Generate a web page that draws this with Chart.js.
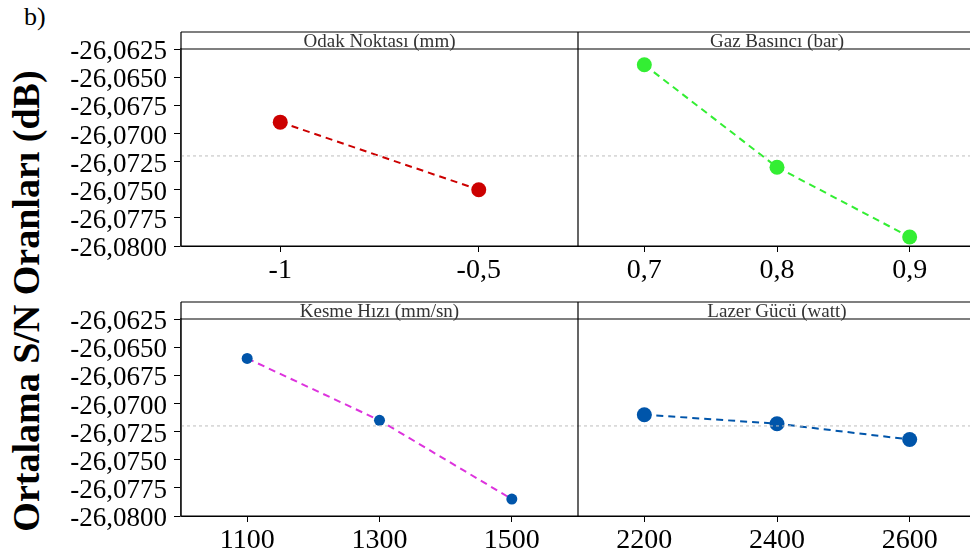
<!DOCTYPE html>
<html>
<head>
<meta charset="utf-8">
<script src="https://cdn.jsdelivr.net/npm/chart.js@4/dist/chart.umd.min.js"></script>
<style>
  html, body { margin: 0; padding: 0; background: #fff; overflow: hidden; }
  #wrap { position: relative; width: 970px; height: 555px; overflow: hidden; }
  canvas { position: absolute; }
  .lbl { position: absolute; font-family: 'Liberation Serif', serif; color: #000; white-space: nowrap; }
</style>
</head>
<body>
<div id="wrap">
  <div class="lbl" style="left:24px; top:2px; font-size:26px;">b)</div>
  <div class="lbl" id="ytitle" style="left:26px; top:301px; font-size:38px; font-weight:bold; transform:translate(-50%,-50%) rotate(-90deg);">Ortalama S/N Oranları (dB)</div>
  <canvas id="c1" style="left:0px; top:0px;" width="578" height="285"></canvas>
  <canvas id="c2" style="left:578px; top:0px;" width="398" height="285"></canvas>
  <canvas id="c3" style="left:0px; top:270px;" width="578" height="285"></canvas>
  <canvas id="c4" style="left:578px; top:270px;" width="398" height="285"></canvas>
</div>
<script>
// main effects data (S/N means, dB)
var odakLabels = ['-1', '-0,5'];
var odakValues = [-26.0690, -26.0750];

var gazLabels = ['0,7', '0,8', '0,9'];
var gazValues = [-26.0639, -26.0730, -26.0792];

var kesmeLabels = ['1100', '1300', '1500'];
var kesmeValues = [-26.0660, -26.0715, -26.0785];

var lazerLabels = ['2200', '2400', '2600'];
var lazerValues = [-26.0710, -26.0718, -26.0732];

var yTicks = [-26.0800, -26.0775, -26.0750, -26.0725, -26.0700, -26.0675, -26.0650, -26.0625];
var grandMean = -26.0720;

var serif = 'Liberation Serif';
Chart.defaults.font.family = serif;
Chart.defaults.color = '#000';

/**
 * Panel decoration: header strip, box and mean line
 */
var panelDeco = {
    id: 'panelDeco',
    afterDraw: function(chart, args, opts) {
        var ctx = chart.ctx;
        var a = chart.chartArea;
        var y = chart.scales.y;
        var hTop = a.top - 17;

        ctx.save();
        // mean line
        var my = y.getPixelForValue(grandMean);
        ctx.strokeStyle = '#bdbdbd';
        ctx.lineWidth = 1;
        ctx.setLineDash([3, 3]);
        ctx.beginPath();
        ctx.moveTo(a.left, my);
        ctx.lineTo(a.right, my);
        ctx.stroke();

        // box + header
        ctx.setLineDash([]);
        ctx.strokeStyle = '#000';
        ctx.lineWidth = 1.2;
        ctx.beginPath();
        ctx.moveTo(a.left, hTop); ctx.lineTo(a.right, hTop);
        ctx.moveTo(a.left, a.top); ctx.lineTo(a.right, a.top);
        ctx.moveTo(a.left, a.bottom); ctx.lineTo(a.right, a.bottom);
        ctx.moveTo(a.left, hTop); ctx.lineTo(a.left, a.bottom);
        ctx.moveTo(a.right, hTop); ctx.lineTo(a.right, a.bottom);
        ctx.stroke();

        ctx.fillStyle = '#333';
        ctx.font = "19px 'Liberation Serif'";
        ctx.textAlign = 'center';
        ctx.textBaseline = 'alphabetic';
        ctx.fillText(opts.title, (a.left + a.right) / 2, a.top - 2);
        ctx.restore();
    }
};

var makePanel = function(id, title, labels, values, lineColor, pointColor, radius, showY) {
    var ctx = document.getElementById(id).getContext('2d');
    return new Chart(ctx, {
        type: 'line',
        data: {
            labels: labels,
            datasets: [{
                data: values,
                borderColor: lineColor,
                borderWidth: 2,
                borderDash: [7, 5],
                pointRadius: radius,
                pointBackgroundColor: pointColor,
                pointBorderWidth: 0,
                tension: 0
            }]
        },
        options: {
            responsive: false,
            animation: false,
            layout: { autoPadding: false, padding: { top: 49, left: 0, right: 0, bottom: 0 } },
            plugins: {
                legend: { display: false },
                tooltip: { enabled: false },
                panelDeco: { title: title }
            },
            scales: {
                x: {
                    offset: true,
                    grid: { drawOnChartArea: false, tickLength: 6, color: '#000' },
                    border: { display: true, color: '#000', width: 1 },
                    ticks: { font: { family: serif, size: 28 }, padding: 2, color: '#000' },
                    afterFit: function(scale) {
                        scale.height = 39;
                        scale.paddingLeft = 0;
                        scale.paddingRight = 0;
                    }
                },
                y: {
                    display: showY,
                    min: -26.08,
                    max: -26.0625,
                    afterBuildTicks: function(scale) {
                        scale.ticks = yTicks.map(function(v) { return { value: v }; });
                    },
                    grid: { drawOnChartArea: false, tickLength: 7, color: '#000' },
                    border: { display: true, color: '#555', width: 1.5 },
                    ticks: {
                        autoSkip: false,
                        font: { family: serif, size: 27 },
                        padding: 7,
                        labelOffset: 3,
                        color: '#000',
                        callback: function(v) { return v.toFixed(4).replace('.', ','); }
                    },
                    afterFit: function(scale) {
                        scale.width = showY ? 181 : 0;
                        scale.paddingTop = 0;
                        scale.paddingBottom = 0;
                    }
                }
            }
        },
        plugins: [panelDeco]
    });
};

makePanel('c1', 'Odak Noktası (mm)', odakLabels, odakValues, '#cc0000', '#cc0000', 7.5, true);
makePanel('c2', 'Gaz Basıncı (bar)', gazLabels, gazValues, '#33ee33', '#33ee33', 7.5, false);
makePanel('c3', 'Kesme Hızı (mm/sn)', kesmeLabels, kesmeValues, '#dd33dd', '#0055aa', 5.5, true);
makePanel('c4', 'Lazer Gücü (watt)', lazerLabels, lazerValues, '#0055aa', '#0055aa', 7.5, false);
</script>
</body>
</html>
